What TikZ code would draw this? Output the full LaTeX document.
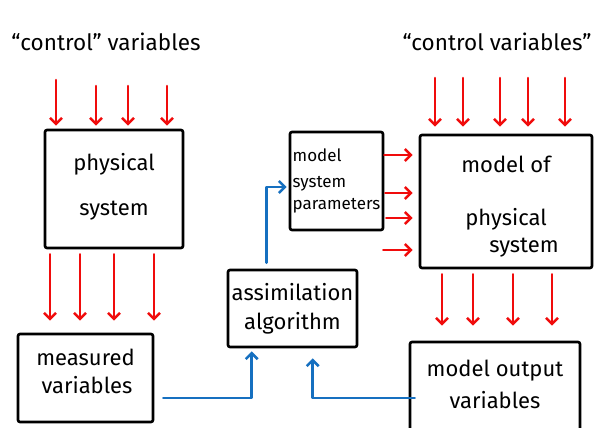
\documentclass[tikz,border=0pt]{standalone}
\usepackage{fontspec}
\setmainfont{Fira Sans}
\usetikzlibrary{arrows.meta,calc}
\definecolor{flowred}{RGB}{240,12,12}
\definecolor{flowblue}{RGB}{22,112,192}
% strut that adds depth below the last line (lifts the text block)
\newcommand{\liftby}[1]{\rule[-#1]{0pt}{#1}}
% strut that adds height above the first line (lowers the text block)
\newcommand{\sinkby}[1]{\rule{0pt}{#1}}
\begin{document}
\begin{tikzpicture}[x=1pt,y=-1pt,
  box/.style={draw=black,line width=2.6pt,rounded corners=2pt,align=center,
    inner sep=0pt,font=\fontsize{22}{26}\selectfont},
  title/.style={font=\fontsize{22.5}{26}\selectfont,inner sep=0pt},
  redarrow/.style={draw=flowred,line width=2.6pt,line cap=round,
    -{Straight Barb[length=6pt,width=12pt]}},
  bluearrow/.style={draw=flowblue,line width=2.6pt,line cap=round,line join=round,
    -{Straight Barb[length=6pt,width=12pt]}}]
\useasboundingbox (0,0) rectangle (594,428);

% titles
\node[title] (ctlL) at (106,42) {“control” variables};
\node[title] (ctlR) at (497,42) {“control variables”};

% boxes
\node[box,minimum width=138,minimum height=118] (phys) at (114,189)
  {physical\\[19pt]system\liftby{9pt}};
\node[box,minimum width=135,minimum height=88] (meas) at (85.5,378)
  {measured\\[2pt]\hspace*{3pt}variables\liftby{14pt}};
\node[box,minimum width=129,minimum height=77] (assim) at (292.5,308.5)
  {assimilation\\[3pt]algorithm};
\node[box,minimum width=93,minimum height=98,align=left,
      font=\fontsize{17}{20}\selectfont] (param) at (336.5,181)
  {model\\[6pt]system\\[2pt]parameters};
\node[box,minimum width=172,minimum height=133] (model) at (506,201.5)
  {\sinkby{27pt}model of\\[27pt]physical\\[1pt]\hspace*{36pt}system};
\node[box,minimum width=170,minimum height=98] (out) at (495,391)
  {model output\\[6pt]variables\liftby{14pt}};

% control inputs
\foreach \x/\y in {56/80,96/86,128/86,167/86}
  \draw[redarrow] (\x,\y) -- ($(\x,0 |- phys.north)+(0,-3)$);
\foreach \x in {435,463,500,528,565}
  \draw[redarrow] (\x,78) -- ($(\x,0 |- model.north)+(0,-7)$);

% system outputs
\foreach \x in {50,80,114,154}
  \draw[redarrow] ($(\x,0 |- phys.south)+(0,5)$) -- ($(\x,0 |- meas.north)+(0,-12)$);
\foreach \x in {442,473,513,552}
  \draw[redarrow] ($(\x,0 |- model.south)+(0,5)$) -- ($(\x,0 |- out.north)+(0,-15)$);

% parameters into the model
\foreach \y/\s in {155/0,193/1,218/2,250/-1}
  \draw[redarrow] ($(param.east |- 0,\y)+(\s,0)$) -- ($(model.west |- 0,\y)+(-6,0)$);

% assimilation loop
\draw[bluearrow] ($(meas.east)+(9,20)$) -| ($(assim.south west)+(25,3)$);
\draw[bluearrow] ($(out.west)+(6,7)$) -| ($(assim.south west)+(86,10)$);
\draw[bluearrow] ($(assim.north west)+(40,-6)$) |- ($(param.west)+(-2,6)$);
\end{tikzpicture}
\end{document}
